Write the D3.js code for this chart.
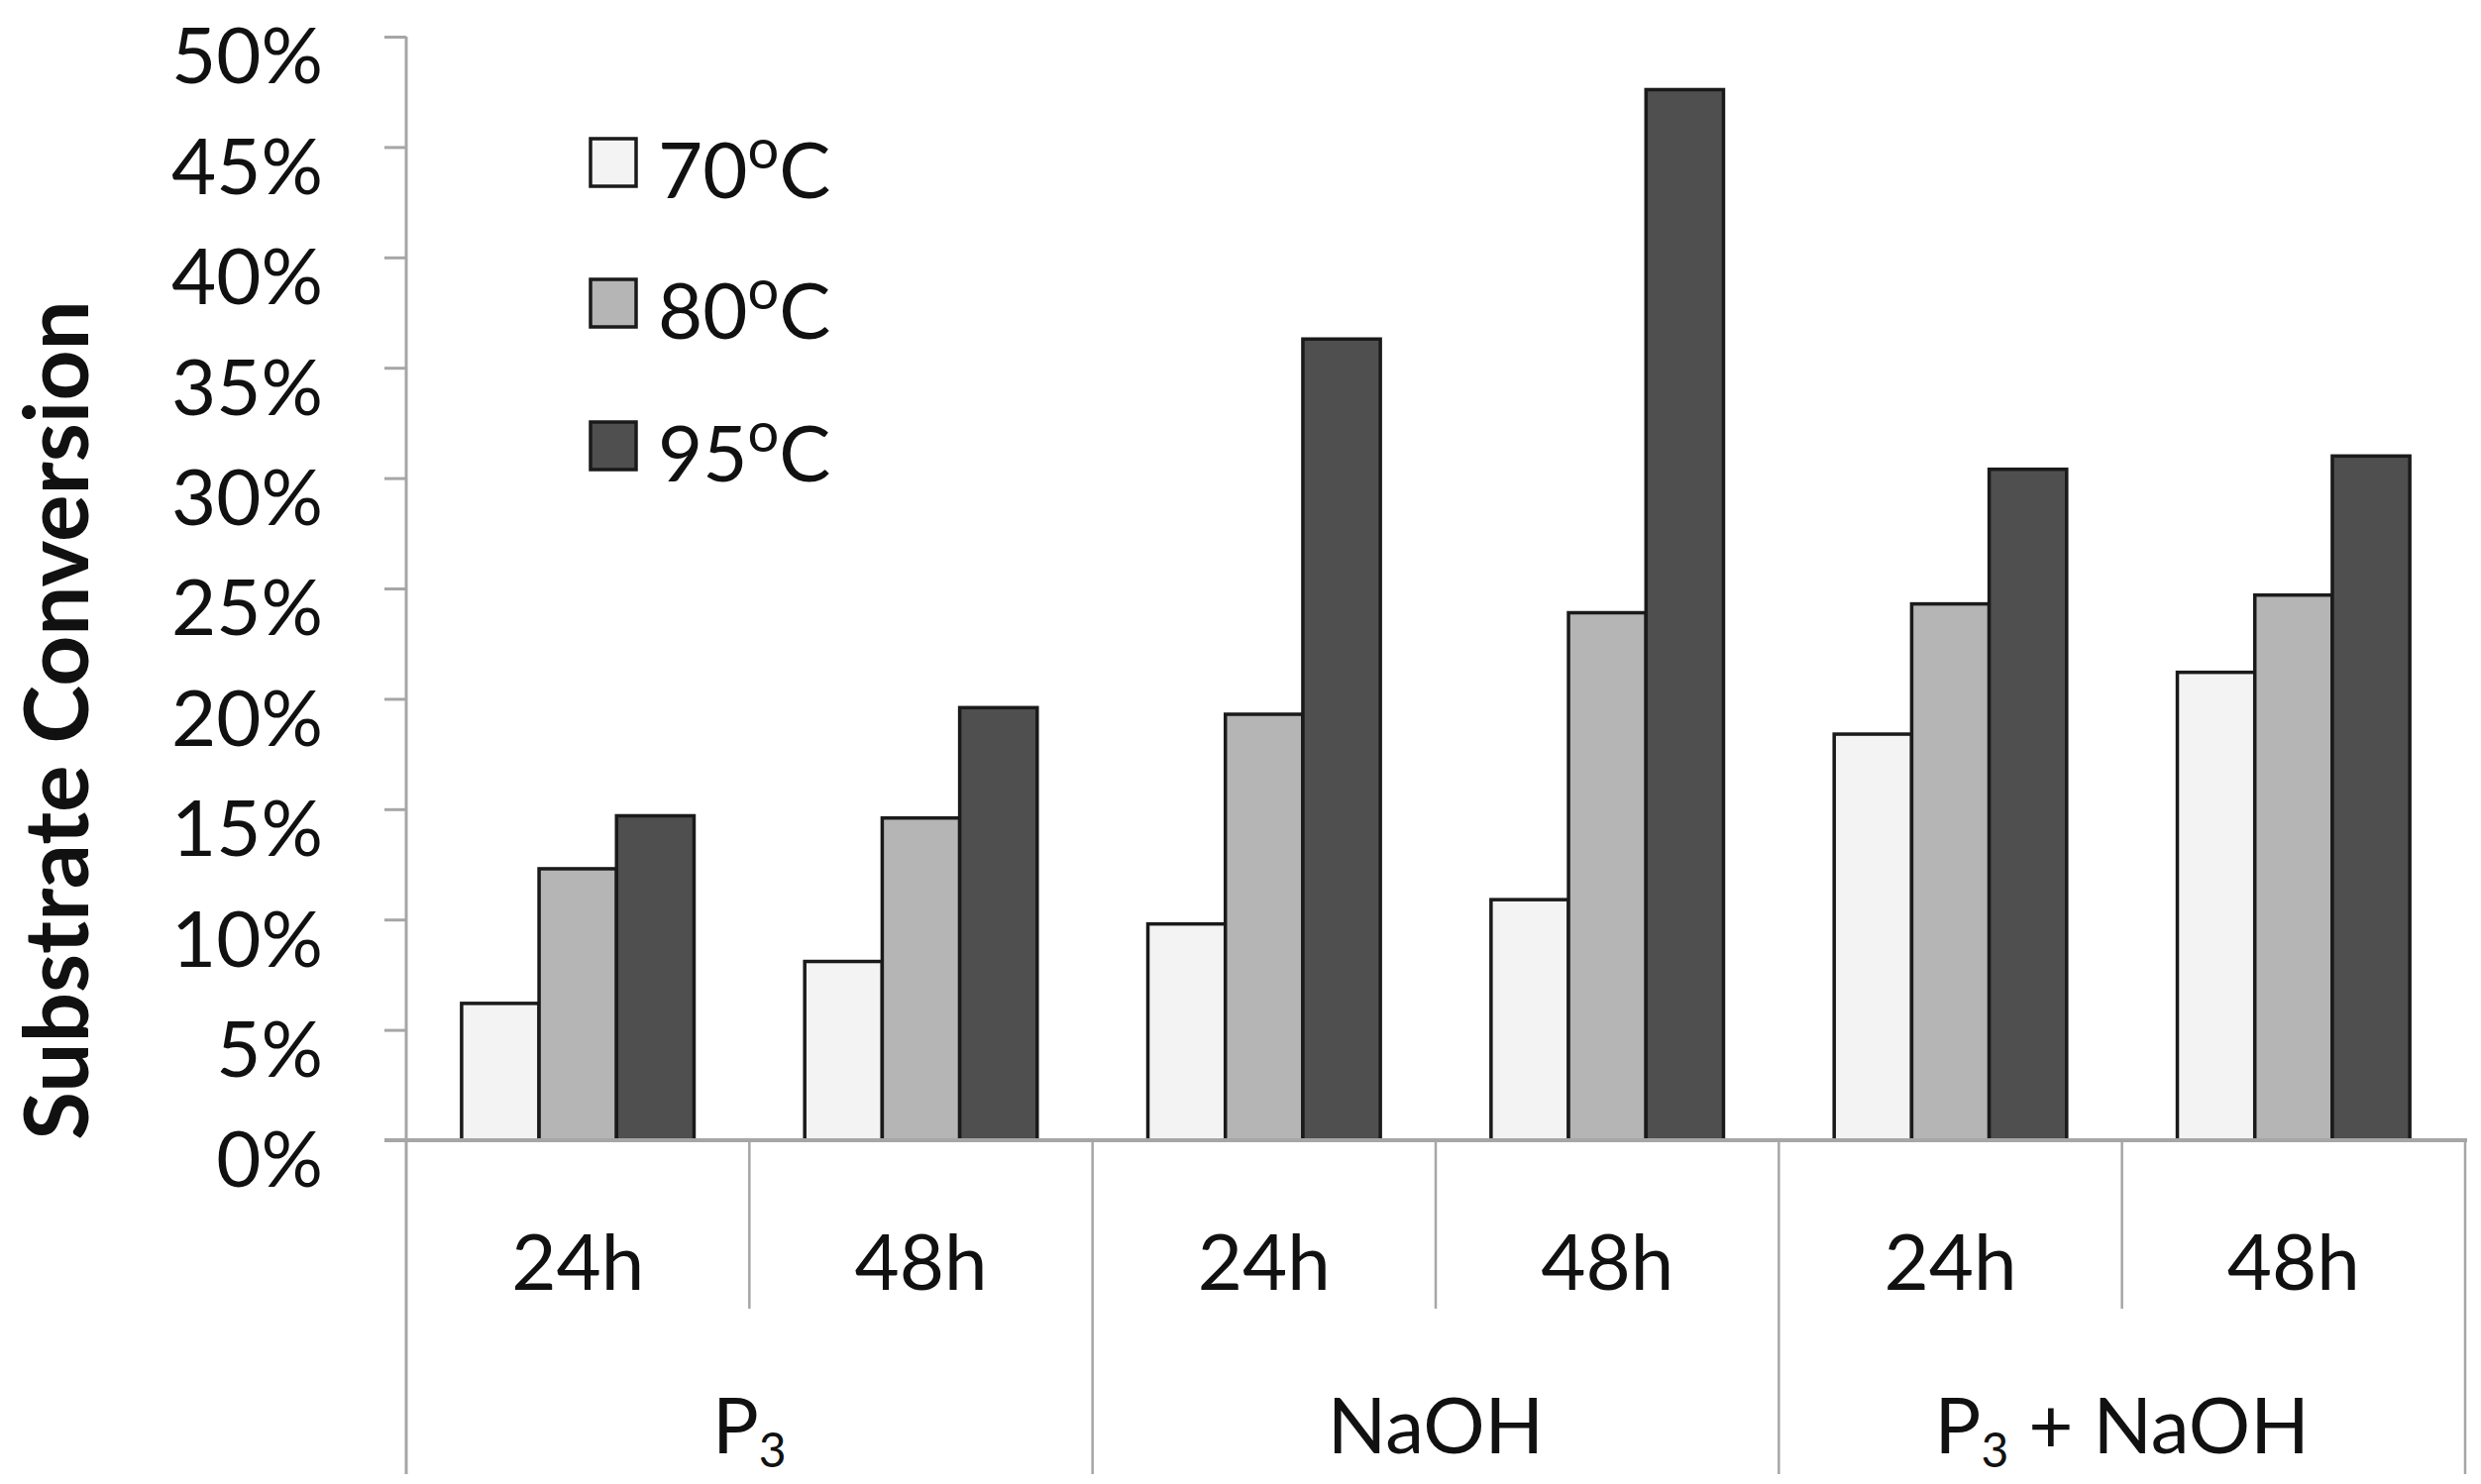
<!DOCTYPE html>
<html><head><meta charset="utf-8">
<script src="https://cdn.jsdelivr.net/npm/d3@7"></script>
<style>html,body{margin:0;padding:0;background:#fff;}svg{display:block;font-family:Lato,"Open Sans",sans-serif;}</style>
</head><body>
<script>
const groups = ["P3", "NaOH", "P3 + NaOH"];
const times = ["24h", "48h"];
const series = ["70", "80", "95"];
const seriesColors = ["#f3f3f3", "#b5b5b5", "#4f4f4f"];
// values in %, order: P3 24h, P3 48h, NaOH 24h, NaOH 48h, P3+NaOH 24h, P3+NaOH 48h
const v70 = [6.2, 8.1, 9.8, 10.9, 18.4, 21.2];
const v80 = [12.3, 14.6, 19.3, 23.9, 24.3, 24.7];
const v95 = [14.7, 19.6, 36.3, 47.6, 30.4, 31.0];
const yTicks = [0, 5, 10, 15, 20, 25, 30, 35, 40, 45, 50];

const W = 2504, H = 1498;
const svg = d3.select("body").append("svg").attr("width", W).attr("height", H);

const cats = [];
groups.forEach(g => times.forEach(t => cats.push(g + "|" + t)));
const vals = [v70, v80, v95];

const x0 = d3.scaleBand().domain(cats).range([410, 2488]).padding(0);
const bw = x0.bandwidth();
const x1 = d3.scaleBand().domain(series).range([bw * 0.1613, bw * 0.8387]).padding(0);
const y = d3.scaleLinear().domain([0, 50]).range([1151, 37]);

const axisColor = "#a6a6a6";

// y axis
const yAxis = svg.append("g").attr("transform", "translate(410,0)")
  .call(d3.axisLeft(y).tickValues(yTicks).tickSize(22).tickPadding(62).tickFormat(d => d + "%"));
yAxis.select(".domain").remove();
yAxis.selectAll(".tick line").attr("stroke", axisColor).attr("stroke-width", 3);
yAxis.selectAll(".tick text").attr("font-size", 78).attr("fill", "#111").attr("dy", "0.6em")
  .attr("font-family", "Lato, sans-serif");
svg.append("line").attr("x1", 410).attr("x2", 410).attr("y1", y(50)).attr("y2", 1488)
  .attr("stroke", axisColor).attr("stroke-width", 3);

// bars
const bars = svg.append("g");
cats.forEach((c, i) => {
  series.forEach((s, j) => {
    const v = vals[j][i];
    bars.append("rect")
      .attr("x", x0(c) + x1(s))
      .attr("y", y(v))
      .attr("width", x1.bandwidth())
      .attr("height", y(0) - y(v))
      .attr("fill", seriesColors[j])
      .attr("stroke", "#1a1a1a")
      .attr("stroke-width", 3.5);
  });
});

// x axis line
svg.append("line").attr("x1", 388).attr("x2", 2490).attr("y1", y(0)).attr("y2", y(0))
  .attr("stroke", axisColor).attr("stroke-width", 4);

// category dividers
cats.forEach((c, i) => {
  const xr = x0(c) + bw;
  const outer = (i % 2 === 1);
  svg.append("line").attr("x1", xr).attr("x2", xr).attr("y1", y(0)).attr("y2", outer ? 1488 : 1321)
    .attr("stroke", axisColor).attr("stroke-width", 2.5);
});

// time labels
cats.forEach(c => {
  svg.append("text").attr("x", x0(c) + bw / 2).attr("y", 1302)
    .attr("text-anchor", "middle").attr("font-size", 78).attr("fill", "#111")
    .text(c.split("|")[1]);
});

// group labels
groups.forEach((g, gi) => {
  const cx = x0(g + "|24h") + bw;
  const t = svg.append("text").attr("x", cx).attr("y", 1467)
    .attr("text-anchor", "middle").attr("font-size", 78).attr("fill", "#111");
  if (g.startsWith("P3")) {
    t.append("tspan").text("P");
    t.append("tspan").attr("font-size", 48).attr("dy", 14).text("3");
    if (g.length > 2) {
      t.append("tspan").attr("dy", -14).text(g.slice(2));
    }
  } else {
    t.text(g);
  }
});

// y title
svg.append("text")
  .attr("transform", "translate(89,727) rotate(-90)")
  .attr("text-anchor", "middle").attr("font-size", 89).attr("font-weight", "bold").attr("fill", "#111")
  .text("Substrate Conversion");

// legend
const legendY = [164, 306, 450];
series.forEach((s, j) => {
  svg.append("rect").attr("x", 596).attr("y", legendY[j] - 24).attr("width", 46).attr("height", 48)
    .attr("fill", seriesColors[j]).attr("stroke", "#1a1a1a").attr("stroke-width", 3.5);
  const t = svg.append("text").attr("x", 664).attr("y", legendY[j] + 36)
    .attr("font-size", 78).attr("fill", "#111");
  t.append("tspan").text(s);
  t.append("tspan").attr("font-size", 56).attr("dy", -30).text("o");
  t.append("tspan").attr("dy", 30).text("C");
});
</script>
</body></html>
